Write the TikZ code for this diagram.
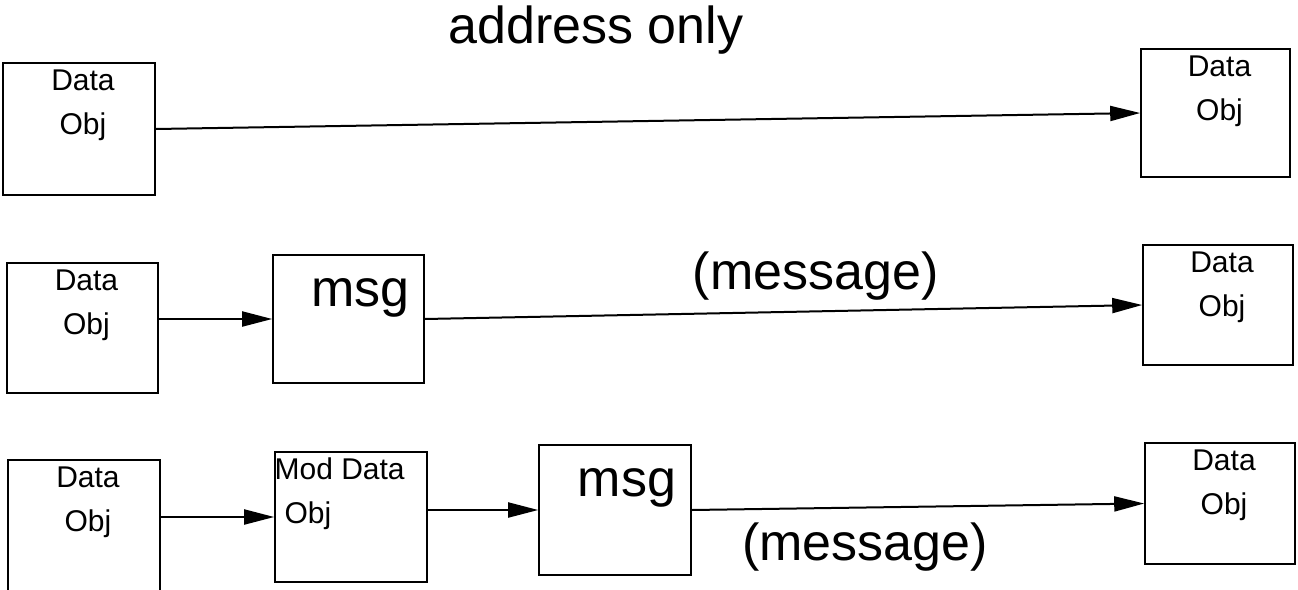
\documentclass[tikz,border=0pt]{standalone}
\usepackage{fontspec}
\setmainfont{Liberation Sans}
\usetikzlibrary{positioning}
\usetikzlibrary{arrows.meta}
\tikzstyle{box}=[draw,rectangle,line width=0.8pt,inner sep=0pt]
\tikzstyle{boxtext}=[align=center,inner sep=0pt,anchor=north,font=\fontsize{15}{22}\selectfont]
\tikzstyle{bigtext}=[inner sep=0pt,font=\fontsize{26}{30}\selectfont]
\tikzstyle{edge} = [draw,line width=1pt,-{Triangle[length=15pt,width=7.5pt]}]

\begin{document}
\begin{tikzpicture}[x=0.5pt,y=-0.5pt]
    \useasboundingbox (0,0) rectangle (1298,590);
    \fill[white] (0,0) rectangle (1298,590);

    \node[bigtext,anchor=base] (title) at (596,43) {address only};

    \foreach \pos/\name/\bw/\bh in {{(79,129)/A1/76/66}, {(1215.5,113)/B1/74.5/64}, {(82.5,328)/A2/75.5/65}, {(348.5,319)/M2/75.5/64}, {(1218,305)/B2/75/60}, {(84,526)/A3/76/66}, {(351,517)/D3/76/65}, {(615,510)/M3/76/65}, {(1220,503.5)/B3/75/60.5}}
        \node[box,minimum width=\bw pt,minimum height=\bh pt] (\name) at \pos {};

    \foreach \name in {A1,B1,A2,B2,A3,B3}
        \node[boxtext] (t\name) at ([xshift=2pt,yshift=-3.5pt]\name.north) {Data\\Obj};

    \node[boxtext,align=left,anchor=north west] (tD3) at ([yshift=-3pt]D3.north west) {Mod Data\\\hspace*{5pt}Obj};

    \foreach \name in {M2,M3}
        \node[bigtext,anchor=base] (t\name) at ([xshift=6pt,yshift=-26pt]\name.north) {msg};

    \path[edge] (A1.east) -- (B1.west);
    \path[edge] (A2.east |- M2.west) -- (M2.west);
    \path[edge] (M2.east) -- node[bigtext,above=5pt,pos=0.545] (msg2) {(message)} (B2.west);
    \path[edge] (A3.east |- D3.west) -- (D3.west);
    \path[edge] (D3.east |- M3.west) -- (M3.west);
    \path[edge] (M3.east) -- node[bigtext,below=7pt,pos=0.383] (msg3) {(message)} (B3.west);
\end{tikzpicture}
\end{document}
